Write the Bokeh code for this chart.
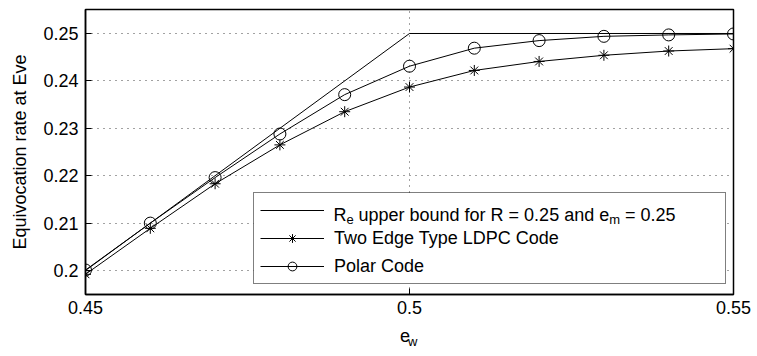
from bokeh.plotting import figure
from bokeh.models import Range1d, FixedTicker, LinearAxis, Label, BoxAnnotation
from bokeh.embed import file_html
from bokeh.resources import INLINE

# ---- data ----
x_bound = [0.45, 0.50, 0.55]
y_bound = [0.20, 0.25, 0.25]

x_codes = [0.45, 0.46, 0.47, 0.48, 0.49, 0.50, 0.51, 0.52, 0.53, 0.54, 0.55]
y_ldpc = [0.1992, 0.2089, 0.2183, 0.2265, 0.2335, 0.2387, 0.2422, 0.2441, 0.2454, 0.2463, 0.2468]
y_polar = [0.2001, 0.2100, 0.2196, 0.2288, 0.2371, 0.2431, 0.2469, 0.2485, 0.2494, 0.2497, 0.2499]

x_ticks = [0.45, 0.50, 0.55]
x_tick_labels = ["0.45", "0.5", "0.55"]
y_ticks = [0.20, 0.21, 0.22, 0.23, 0.24, 0.25]
y_tick_labels = ["0.2", "0.21", "0.22", "0.23", "0.24", "0.25"]

FONT = "Liberation Sans"
FS = "18px"
SUB = "13px"

X0, X1 = 0.45, 0.55
Y0, Y1 = 0.19494, 0.25506
# frame geometry in canvas pixels (for placing annotation text)
FL, FT, FR, FB = 85, 9, 733, 294


def px_x(px):
    return X0 + (px - FL) / (FR - FL) * (X1 - X0)


def px_y(py):
    return Y1 - (py - FT) / (FB - FT) * (Y1 - Y0)


p = figure(width=757, height=356, output_backend="svg", toolbar_location=None,
           x_range=Range1d(X0, X1), y_range=Range1d(Y0, Y1),
           min_border_left=FL, min_border_right=757 - FR, min_border_top=FT,
           min_border_bottom=356 - FB)
p.background_fill_color = "white"
p.border_fill_color = "white"
p.outline_line_color = "black"
p.outline_line_width = 1.5

# lines
p.line(x_bound, y_bound, line_color="black", line_width=1,
       legend_label=" ")
p.line(x_codes, y_ldpc, line_color="black", line_width=1,
       legend_label="Two Edge Type LDPC Code")
p.scatter(x_codes, y_ldpc, marker="asterisk", size=11, line_color="black",
          line_width=1, legend_label="Two Edge Type LDPC Code")
p.line(x_codes, y_polar, line_color="black", line_width=1,
       legend_label="Polar Code")
p.scatter(x_codes, y_polar, marker="circle", size=12, line_color="black",
          fill_color=None, line_width=1, legend_label="Polar Code")


# axes
def style_axis(ax):
    ax.axis_line_color = "black"
    ax.axis_line_width = 1.5
    ax.major_tick_in = 6
    ax.major_tick_out = 0
    ax.major_tick_line_color = "black"
    ax.minor_tick_line_color = None
    ax.major_label_text_font = FONT
    ax.major_label_text_font_size = FS
    ax.major_label_text_color = "black"


xa = p.xaxis[0]
xa.ticker = FixedTicker(ticks=x_ticks)
xa.major_label_overrides = dict(zip(x_ticks, x_tick_labels))
style_axis(xa)
xa.major_label_standoff = 6
xa.axis_label = "e\u2002"
xa.axis_label_text_font = FONT
xa.axis_label_text_font_size = FS
xa.axis_label_text_font_style = "normal"
xa.axis_label_text_color = "black"
xa.axis_label_standoff = 9

# subscript "w" of the x axis label, as the label of a tick-less axis
xsub = LinearAxis(ticker=FixedTicker(ticks=[]))
xsub.axis_line_color = None
xsub.major_tick_line_color = None
xsub.minor_tick_line_color = None
xsub.major_tick_in = 0
xsub.major_tick_out = 0
xsub.axis_label = "\u2002w"
xsub.axis_label_text_font = FONT
xsub.axis_label_text_font_size = SUB
xsub.axis_label_text_font_style = "normal"
xsub.axis_label_text_color = "black"
xsub.axis_label_standoff = -15
p.add_layout(xsub, "below")

ya = p.yaxis[0]
ya.ticker = FixedTicker(ticks=y_ticks)
ya.major_label_overrides = dict(zip(y_ticks, y_tick_labels))
style_axis(ya)
ya.major_label_standoff = 7
ya.axis_label = "Equivocation rate at Eve"
ya.axis_label_text_font = FONT
ya.axis_label_text_font_size = FS
ya.axis_label_text_font_style = "normal"
ya.axis_label_text_color = "black"
ya.axis_label_standoff = 10

# grid
for g in (p.xgrid[0], p.ygrid[0]):
    g.grid_line_color = "#444444"
    g.grid_line_dash = "1 5"
    g.grid_line_width = 1
p.xgrid[0].ticker = FixedTicker(ticks=x_ticks)
p.ygrid[0].ticker = FixedTicker(ticks=y_ticks)

# legend (transparent; a white box underneath hides the grid)
lg = p.legend[0]
lg.location = (253 - FL, FB - 284)
lg.border_line_color = "black"
lg.border_line_width = 1.5
lg.background_fill_alpha = 0
lg.label_text_font = FONT
lg.label_text_font_size = FS
lg.label_text_color = "black"
lg.glyph_width = 64
lg.glyph_height = 22
lg.label_height = 22
lg.label_width = 385
lg.label_standoff = 10
lg.spacing = 6
lg.padding = 6
lg.margin = 0

p.add_layout(BoxAnnotation(left=px_x(253), right=px_x(724), top=px_y(194),
                           bottom=px_y(284), fill_color="white",
                           fill_alpha=1, line_color=None))

# first legend entry text with subscripts
ax0 = px_x(333)
base = px_y(214)
sub = px_y(219)


def add_text(t, x, y, size, xoff=0):
    p.add_layout(Label(x=x, y=y, x_offset=xoff, text=t, text_font=FONT,
                       text_font_size=size, text_color="black",
                       text_baseline="alphabetic", text_align="left"))


add_text("R", ax0, base, FS, 0)
add_text("e", ax0, sub, SUB, 13.0)
add_text("upper bound for R = 0.25 and e", ax0, base, FS, 25.0)
add_text("m", ax0, sub, SUB, 275.7)
add_text("= 0.25", ax0, base, FS, 291.5)

open("out.html", "w").write(file_html(p, INLINE))
